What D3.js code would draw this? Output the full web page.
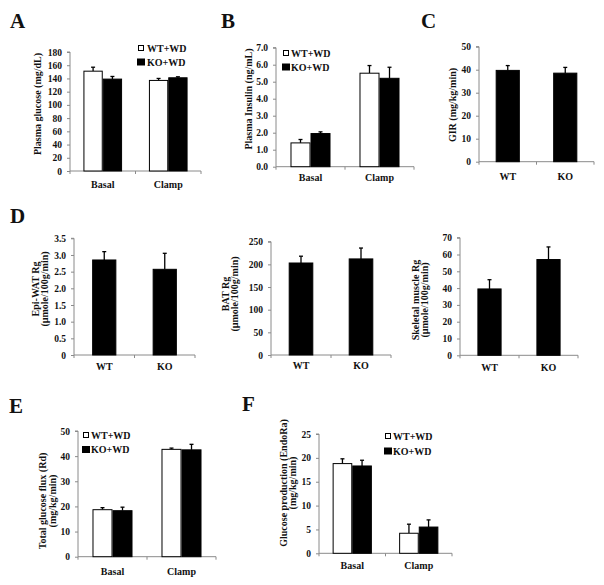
<!DOCTYPE html>
<html><head><meta charset="utf-8">
<script src="https://cdn.jsdelivr.net/npm/d3@7"></script>
<style>
body{margin:0;background:#fff;}
text{font-family:"Liberation Serif","Times New Roman",serif;font-weight:bold;fill:#111;}
</style></head>
<body><svg id="chart" width="604" height="585"></svg>
<script>
// ---------- DATA ----------
const groupCats = ["Basal", "Clamp"];
const genoCats = ["WT", "KO"];
const seriesNames = ["WT+WD", "KO+WD"];

const glucoseWT = [151, 137], glucoseWTErr = [6, 3];
const glucoseKO = [139, 141], glucoseKOErr = [4, 1.5];
const glucoseTicks = [0, 20, 40, 60, 80, 100, 120, 140, 160, 180];

const insulinWT = [1.4, 5.5], insulinWTErr = [0.2, 0.45];
const insulinKO = [1.95, 5.2], insulinKOErr = [0.1, 0.65];
const insulinTicks = [0, 1, 2, 3, 4, 5, 6, 7];

const girVals = [39.7, 38.5], girErr = [2.1, 2.5];
const girTicks = [0, 10, 20, 30, 40, 50];

const epiWatVals = [2.85, 2.57], epiWatErr = [0.25, 0.48];
const epiWatTicks = [0, 0.5, 1, 1.5, 2, 2.5, 3, 3.5];

const batVals = [203, 212], batErr = [15, 24];
const batTicks = [0, 50, 100, 150, 200, 250];

const muscleVals = [39.5, 57], muscleErr = [5.5, 7.5];
const muscleTicks = [0, 10, 20, 30, 40, 50, 60, 70];

const rdWT = [18.7, 42.7], rdWTErr = [0.8, 0.5];
const rdKO = [18.3, 42.5], rdKOErr = [1.4, 2.2];
const rdTicks = [0, 10, 20, 30, 40, 50];

const raWT = [18.8, 4.2], raWTErr = [1.0, 1.9];
const raKO = [18.3, 5.5], raKOErr = [1.2, 1.5];
const raTicks = [0, 5, 10, 15, 20, 25];

// ---------- LAYOUT ----------
const svg = d3.select("#chart");
const AX = "#8a8a8a";
const fmt1 = d3.format(".1f");
const fmtD = d => d === 0 ? "0" : d3.format(".1f")(d);

const two = (wv, we, kv, ke) => [
  {name: seriesNames[0], vals: wv, errs: we, fill: "#fff"},
  {name: seriesNames[1], vals: kv, errs: ke, fill: "#000"}];
const one = (v, e) => [{name: "", vals: v, errs: e, fill: "#000"}];

const panels = [
  {letter: "A", lx: 10, ly: 28, cats: groupCats, series: two(glucoseWT, glucoseWTErr, glucoseKO, glucoseKOErr),
   ticks: glucoseTicks, fmt: d3.format("d"), x0: 70, x1: 201, yTop: 52, yBot: 171, frac: 0.59,
   title: ["Plasma glucose (mg/dL)"], tx: [37], ty: 104, labDy: 13,
   legend: {x: 141, y: 48, tx: 147, dy: 14}},
  {letter: "B", lx: 221, ly: 28, cats: groupCats, series: two(insulinWT, insulinWTErr, insulinKO, insulinKOErr),
   ticks: insulinTicks, fmt: fmt1, x0: 276, x1: 414, yTop: 47.7, yBot: 166.7, frac: 0.58,
   title: ["Plasma Insulin (ng/mL)"], tx: [248], ty: 99, labDy: 11,
   legend: {x: 286, y: 53, tx: 291, dy: 14}},
  {letter: "C", lx: 421, ly: 28, cats: genoCats, series: one(girVals, girErr),
   ticks: girTicks, fmt: d3.format("d"), x0: 479, x1: 594, yTop: 46.7, yBot: 161.7, frac: 0.42,
   title: ["GIR (mg/kg/min)"], tx: [452], ty: 105, labDy: 15},
  {letter: "D", lx: 10, ly: 223, cats: genoCats, series: one(epiWatVals, epiWatErr),
   ticks: epiWatTicks, fmt: fmtD, x0: 74, x1: 195, yTop: 238.3, yBot: 355, frac: 0.4,
   title: ["Epi-WAT Rg", "(µmole/100g/min)"], tx: [35, 44], ty: 289, labDy: 11},
  {letter: null, cats: genoCats, series: one(batVals, batErr),
   ticks: batTicks, fmt: d3.format("d"), x0: 271, x1: 391, yTop: 241.7, yBot: 355, frac: 0.41,
   title: ["BAT Rg", "(µmole/100g/min)"], tx: [225, 234], ty: 294, labDy: 10},
  {letter: null, cats: genoCats, series: one(muscleVals, muscleErr),
   ticks: muscleTicks, fmt: d3.format("d"), x0: 460, x1: 578, yTop: 237.7, yBot: 355.3, frac: 0.41,
   title: ["Skeletal muscle Rg", "(µmole/100g/min)"], tx: [415, 424], ty: 300, labDy: 12},
  {letter: "E", lx: 9, ly: 413, cats: groupCats, series: two(rdWT, rdWTErr, rdKO, rdKOErr),
   ticks: rdTicks, fmt: d3.format("d"), x0: 78, x1: 216, yTop: 431, yBot: 556.7, frac: 0.58,
   title: ["Total glucose flux (Rd)", "(mg/kg/min)"], tx: [42, 52], ty: 501, labDy: 15,
   legend: {x: 86, y: 435, tx: 91, dy: 14.5}},
  {letter: "F", lx: 242, ly: 411, cats: groupCats, series: two(raWT, raWTErr, raKO, raKOErr),
   ticks: raTicks, fmt: d3.format("d"), x0: 319, x1: 452, yTop: 434, yBot: 553.3, frac: 0.59,
   title: ["Glucose production (EndoRa)", "(mg/kg/min)"], tx: [283, 292], ty: 483, labDy: 12,
   legend: {x: 388, y: 436, tx: 393, dy: 15}}
];

panels.forEach(p => {
  const g = svg.append("g");
  if (p.letter) g.append("text").attr("x", p.lx).attr("y", p.ly)
      .style("font-size", "21px").text(p.letter);

  const y = d3.scaleLinear().domain([0, d3.max(p.ticks)]).range([p.yBot, p.yTop]);
  const x = d3.scaleBand().domain(p.cats).range([p.x0, p.x1]).padding(0);
  const names = p.series.map(s => s.name);
  const bw = x.bandwidth();
  const xs = d3.scaleBand().domain(names).range([bw * (1 - p.frac) / 2, bw * (1 + p.frac) / 2]).padding(0);

  // y axis
  const ya = g.append("g").attr("transform", `translate(${p.x0},0)`)
    .call(d3.axisLeft(y).tickValues(p.ticks).tickFormat(p.fmt).tickSize(3).tickPadding(5));
  ya.select(".domain").attr("stroke", AX).attr("d", `M-3,${p.yTop}H0V${p.yBot}`);
  ya.selectAll(".tick line").attr("stroke", AX);
  ya.selectAll(".tick text").style("font-size", "9.5px").style("font-family", "Liberation Serif")
    .style("font-weight", "bold").attr("fill", "#111");

  // x axis line + boundary ticks
  g.append("line").attr("x1", p.x0).attr("x2", p.x1).attr("y1", p.yBot).attr("y2", p.yBot).attr("stroke", AX);
  const bounds = [p.x0].concat(p.cats.map(c => x(c) + bw));
  g.selectAll(".xt").data(bounds).join("line").attr("x1", d => d).attr("x2", d => d)
    .attr("y1", p.yBot).attr("y2", p.yBot + 3).attr("stroke", AX);
  g.selectAll(".xl").data(p.cats).join("text")
    .attr("x", d => x(d) + bw / 2).attr("y", p.yBot + p.labDy).attr("dy", "0.35em")
    .attr("text-anchor", "middle").style("font-size", "10px").text(d => d);

  // bars + error bars
  p.series.forEach(s => {
    p.cats.forEach((c, i) => {
      const bx = x(c) + xs(s.name), w = xs.bandwidth();
      const top = y(s.vals[i]), et = y(s.vals[i] + s.errs[i]);
      g.append("line").attr("x1", bx + w / 2).attr("x2", bx + w / 2).attr("y1", top).attr("y2", et)
        .attr("stroke", "#000").attr("stroke-width", 1.3);
      g.append("line").attr("x1", bx + w / 2 - 2).attr("x2", bx + w / 2 + 2).attr("y1", et).attr("y2", et)
        .attr("stroke", "#000").attr("stroke-width", 1.3);
      g.append("rect").attr("x", bx + 0.5).attr("y", top).attr("width", w - 1).attr("height", p.yBot - top)
        .attr("fill", s.fill).attr("stroke", "#000").attr("stroke-width", 1);
    });
  });

  // y title
  p.title.forEach((t, k) => {
    g.append("text").attr("transform", `translate(${p.tx[k]},${p.ty}) rotate(-90)`)
      .attr("text-anchor", "middle").attr("dy", "0.35em").style("font-size", "10px").text(t);
  });

  // legend
  if (p.legend) {
    const L = p.legend;
    p.series.forEach((s, k) => {
      const cy = L.y + k * L.dy;
      if (s.fill === "#fff") {
        g.append("rect").attr("x", L.x - 2.5).attr("y", cy - 2.5).attr("width", 5).attr("height", 5)
          .attr("fill", "#fff").attr("stroke", "#000").attr("stroke-width", 1);
      } else {
        g.append("rect").attr("x", L.x - 4).attr("y", cy - 3.5).attr("width", 8).attr("height", 7)
          .attr("fill", "#000");
      }
      g.append("text").attr("x", L.tx).attr("y", cy).attr("dy", "0.35em")
        .style("font-size", "10px").text(s.name);
    });
  }
});
</script></body></html>
